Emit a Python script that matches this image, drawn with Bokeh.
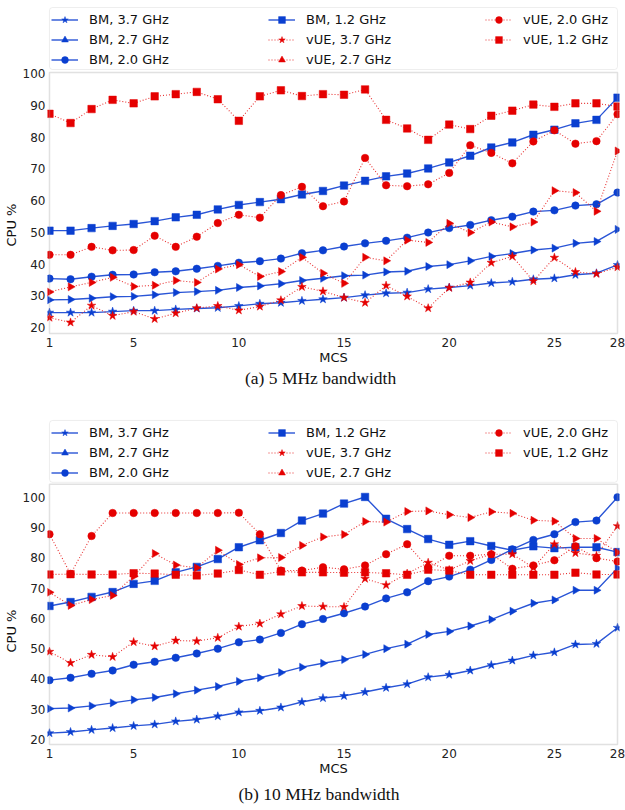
import math
from bokeh.plotting import figure
from bokeh.models import Legend, LegendItem, Title, Range1d, FixedTicker, BoxAnnotation
from bokeh.layouts import column
from bokeh.embed import file_html
from bokeh.resources import INLINE

mcs = [1, 2, 3, 4, 5, 6, 7, 8, 9, 10, 11, 12, 13, 14, 15, 16, 17, 18, 19, 20,
       21, 22, 23, 24, 25, 26, 27, 28]
x_ticks = [1, 5, 10, 15, 20, 25, 28]
y_ticks = [20, 30, 40, 50, 60, 70, 80, 90, 100]

labels = ["BM, 3.7 GHz", "BM, 2.7 GHz", "BM, 2.0 GHz", "BM, 1.2 GHz",
          "vUE, 3.7 GHz", "vUE, 2.7 GHz", "vUE, 2.0 GHz", "vUE, 1.2 GHz"]

# (a) 5 MHz bandwidth
a_bm_37 = [24.7, 24.7, 24.7, 25.0, 25.3, 25.3, 25.7, 26.0, 26.2, 26.8, 27.5, 27.8, 28.4, 28.9,
           29.4, 30.2, 30.8, 31.0, 32.1, 32.6, 33.2, 34.0, 34.4, 35.2, 35.5, 36.6, 37.1, 39.7]
a_bm_27 = [28.7, 28.8, 29.2, 29.7, 29.8, 30.3, 31.0, 31.3, 31.7, 32.6, 33.1, 33.8, 34.8, 35.5,
           36.3, 36.5, 37.5, 37.7, 39.2, 39.8, 41.0, 42.4, 43.3, 44.4, 45.0, 46.5, 47.1, 50.9]
a_bm_20 = [35.4, 35.2, 36.0, 36.6, 36.7, 37.4, 37.7, 38.5, 39.4, 40.4, 40.9, 41.7, 43.4, 44.3,
           45.5, 46.5, 47.3, 48.3, 49.9, 51.3, 52.3, 53.8, 54.9, 56.5, 56.9, 58.4, 58.8, 62.5]
a_bm_12 = [50.5, 50.5, 51.3, 52.0, 52.6, 53.5, 54.7, 55.5, 57.2, 58.6, 59.5, 60.4, 61.9, 63.0,
           64.7, 66.2, 67.6, 68.5, 70.1, 72.0, 74.1, 76.7, 78.3, 80.7, 82.3, 84.3, 85.4, 92.4]
a_vue_37 = [23.1, 21.6, 26.9, 23.7, 25.0, 22.7, 24.5, 26.1, 26.8, 25.4, 26.6, 28.6, 32.8, 31.4,
            29.4, 27.8, 33.2, 29.8, 26.1, 32.5, 34.2, 40.4, 42.4, 34.6, 42.0, 37.5, 36.9, 39.0]
a_vue_27 = [31.2, 32.8, 34.2, 35.8, 32.9, 33.3, 34.8, 34.2, 38.4, 39.8, 36.1, 37.6, 42.1, 37.1,
            33.9, 42.1, 41.0, 47.5, 46.8, 52.8, 49.9, 53.2, 51.7, 53.2, 63.1, 62.5, 56.6, 75.6]
a_vue_20 = [42.9, 42.9, 45.4, 44.3, 44.4, 48.9, 45.4, 48.6, 52.9, 55.5, 54.6, 61.7, 64.3, 58.2,
            59.7, 73.4, 64.8, 64.5, 65.1, 68.7, 77.4, 75.0, 71.7, 78.6, 82.1, 77.9, 78.7, 87.2]
a_vue_12 = [87.3, 84.4, 88.8, 91.7, 90.6, 92.8, 93.5, 94.2, 91.9, 85.1, 92.8, 94.7, 92.9, 93.5,
            93.3, 95.0, 85.4, 82.7, 79.1, 83.9, 82.5, 86.7, 88.3, 90.2, 89.5, 90.6, 90.6, 89.6]

# (b) 10 MHz bandwidth
b_bm_37 = [22.1, 22.5, 23.2, 23.8, 24.5, 25.0, 26.0, 26.6, 27.7, 29.0, 29.5, 30.6, 32.4, 33.7,
           34.4, 35.7, 37.1, 38.3, 40.6, 41.4, 42.8, 44.6, 46.1, 47.8, 48.8, 51.4, 51.6, 56.9]
b_bm_27 = [30.2, 30.4, 31.1, 32.1, 33.1, 33.9, 35.1, 36.3, 37.5, 39.2, 40.4, 42.1, 43.9, 45.2,
           46.4, 48.1, 50.0, 51.5, 54.7, 55.7, 57.5, 59.6, 62.4, 65.0, 66.1, 69.3, 69.3, 76.6]
b_bm_20 = [39.6, 40.4, 41.7, 42.8, 44.7, 45.7, 47.0, 48.4, 50.0, 52.1, 53.0, 55.2, 58.1, 59.8,
           61.7, 63.9, 66.6, 68.6, 72.3, 73.8, 76.1, 79.3, 82.8, 85.9, 87.8, 91.8, 92.3, 100.0]
b_bm_12 = [64.1, 65.4, 67.1, 68.7, 71.4, 72.4, 75.2, 77.0, 79.6, 83.5, 85.8, 88.2, 92.3, 94.6,
           97.9, 100.1, 92.9, 89.5, 86.2, 84.3, 85.5, 83.9, 82.5, 83.8, 83.2, 83.5, 83.5, 81.9]
b_vue_37 = [49.0, 45.3, 48.0, 47.3, 52.2, 50.8, 52.7, 52.5, 53.6, 57.3, 58.3, 61.4, 64.1, 63.9,
            63.8, 73.1, 71.0, 74.8, 78.4, 76.0, 79.0, 81.2, 81.2, 76.8, 84.5, 81.6, 80.7, 90.5]
b_vue_27 = [68.6, 64.3, 66.2, 67.6, 73.9, 81.4, 77.6, 76.7, 82.5, 77.8, 80.0, 80.1, 84.1, 86.9,
            87.7, 92.0, 91.8, 95.3, 95.5, 94.2, 93.3, 95.2, 94.7, 92.4, 92.1, 86.4, 86.4, 81.8]
b_vue_20 = [87.8, 74.7, 87.2, 94.8, 94.8, 94.8, 94.8, 94.8, 94.8, 94.9, 87.8, 75.8, 75.8, 76.9,
            76.2, 77.5, 81.2, 84.5, 76.8, 80.7, 80.7, 81.2, 76.4, 77.5, 79.2, 83.8, 79.9, 78.8]
b_vue_12 = [74.5, 74.6, 74.5, 74.5, 74.9, 74.8, 74.4, 74.2, 74.8, 76.0, 74.4, 75.5, 75.2, 75.2,
            75.1, 75.2, 74.9, 74.4, 76.1, 75.8, 74.4, 74.4, 74.4, 74.4, 74.4, 75.1, 74.5, 74.5]

BLUE = "#0a3fd0"
BLUE_LINE = "#2a55d6"
RED = "#e50000"
RED_LINE = "#e83030"

markers = ["star", "triangle", "circle", "square"]
msizes = [9, 8, 7.5, 7.5]


def make_fig(height, series, y_view, y_axes, borders, caption, cap_offset, cap_standoff,
             legend_box, leg_vy, ylab_offset):
    bt, bb = borders
    p = figure(width=625, height=height,
               x_range=Range1d(0.905, 28.095), y_range=Range1d(*y_view),
               output_backend="svg", toolbar_location=None, title_location=None,
               min_border_left=46, min_border_right=6,
               min_border_top=bt, min_border_bottom=bb)
    p.xgrid.visible = False
    p.ygrid.visible = False
    p.outline_line_color = None
    p.background_fill_color = "white"
    p.border_fill_color = "white"

    for ax in (p.xaxis[0], p.yaxis[0]):
        ax.axis_line_color = None
        ax.major_tick_line_color = None
        ax.minor_tick_line_color = None
        ax.major_tick_out = 0
        ax.major_tick_in = 0
        ax.minor_tick_out = 0
        ax.minor_tick_in = 0
        ax.major_label_text_font = "DejaVu Sans"
        ax.major_label_text_font_size = "12px"
        ax.major_label_text_color = "#222222"
        ax.axis_label_text_font = "DejaVu Sans"
        ax.axis_label_text_font_size = "13px"
        ax.axis_label_text_font_style = "normal"
        ax.axis_label_text_color = "#111111"
        ax.major_label_standoff = 2
        ax.axis_label_standoff = 0
    p.xaxis[0].ticker = FixedTicker(ticks=x_ticks)
    p.yaxis[0].ticker = FixedTicker(ticks=y_ticks)
    p.xaxis[0].bounds = (1, 28)
    p.yaxis[0].bounds = y_axes
    p.xaxis[0].axis_label = "MCS"

    # y axis label, placed alongside the axes box (not the legend strip)
    ylab = Title(text="CPU %", align="left", offset=ylab_offset, text_font="DejaVu Sans",
                 text_font_size="13px", text_font_style="normal", text_color="#111111",
                 vertical_align="bottom", standoff=2)
    p.add_layout(ylab, "left")

    # axes frame (spines)
    p.add_layout(BoxAnnotation(left=1, right=28, bottom=y_axes[0], top=y_axes[1],
                               fill_alpha=0.0, line_color="#9a9a9a", line_width=1.5,
                               level="overlay"))
    # legend frame (above the axes box, same width)
    lb, ltop = legend_box
    p.add_layout(BoxAnnotation(left=1, right=28, bottom=lb, top=ltop,
                               fill_alpha=0.0, line_color="#c8c8c8", line_width=1,
                               border_radius=3, level="overlay"))

    items = []
    for i, (lab, ys) in enumerate(zip(labels, series)):
        bm = i < 4
        k = i % 4
        if bm:
            lr = p.line(mcs, ys, line_color=BLUE_LINE, line_width=1.4)
            color = BLUE
        else:
            lr = p.line(mcs, ys, line_color=RED_LINE, line_width=1.1, line_dash="1 2")
            color = RED
        ang = -math.pi / 2 if markers[k] == "triangle" else 0.0
        sr = p.scatter(mcs, ys, marker=markers[k], size=msizes[k], angle=ang,
                       fill_color=color, line_color=color, line_width=0.5)
        items.append(LegendItem(label=lab, renderers=[lr, sr]))

    legend = Legend(items=items, ncols=3, orientation="vertical", location=(4, leg_vy),
                    label_text_font="DejaVu Sans", label_text_font_size="13px",
                    label_text_color="#111111",
                    glyph_width=27, glyph_height=17, label_standoff=11,
                    label_width=176, label_height=17, spacing=3, padding=4, margin=0,
                    border_line_color=None, background_fill_alpha=0.0)
    p.add_layout(legend)

    cap = Title(text=caption, align="left", offset=cap_offset, text_font="Liberation Serif",
                text_font_size="17.5px", text_font_style="normal", text_color="#111111",
                vertical_align="top", standoff=cap_standoff)
    p.add_layout(cap, "below")
    return p


p1 = make_fig(400, [a_bm_37, a_bm_27, a_bm_20, a_bm_12, a_vue_37, a_vue_27, a_vue_20, a_vue_12],
              (17.48, 122.05), (18.11, 100.31), (3, 65),
              "(a) 5 MHz bandwidth", 197.5, 0, (101.26, 120.79), 267, 89)
p2 = make_fig(410, [b_bm_37, b_bm_27, b_bm_20, b_bm_12, b_vue_37, b_vue_27, b_vue_20, b_vue_12],
              (17.70, 127.33), (18.35, 104.28), (14, 63),
              "(b) 10 MHz bandwidth", 191, 10, (104.94, 125.35), 265.5, 94)

layout = column(p1, p2, spacing=0)
open("out.html", "w").write(file_html(layout, INLINE))
